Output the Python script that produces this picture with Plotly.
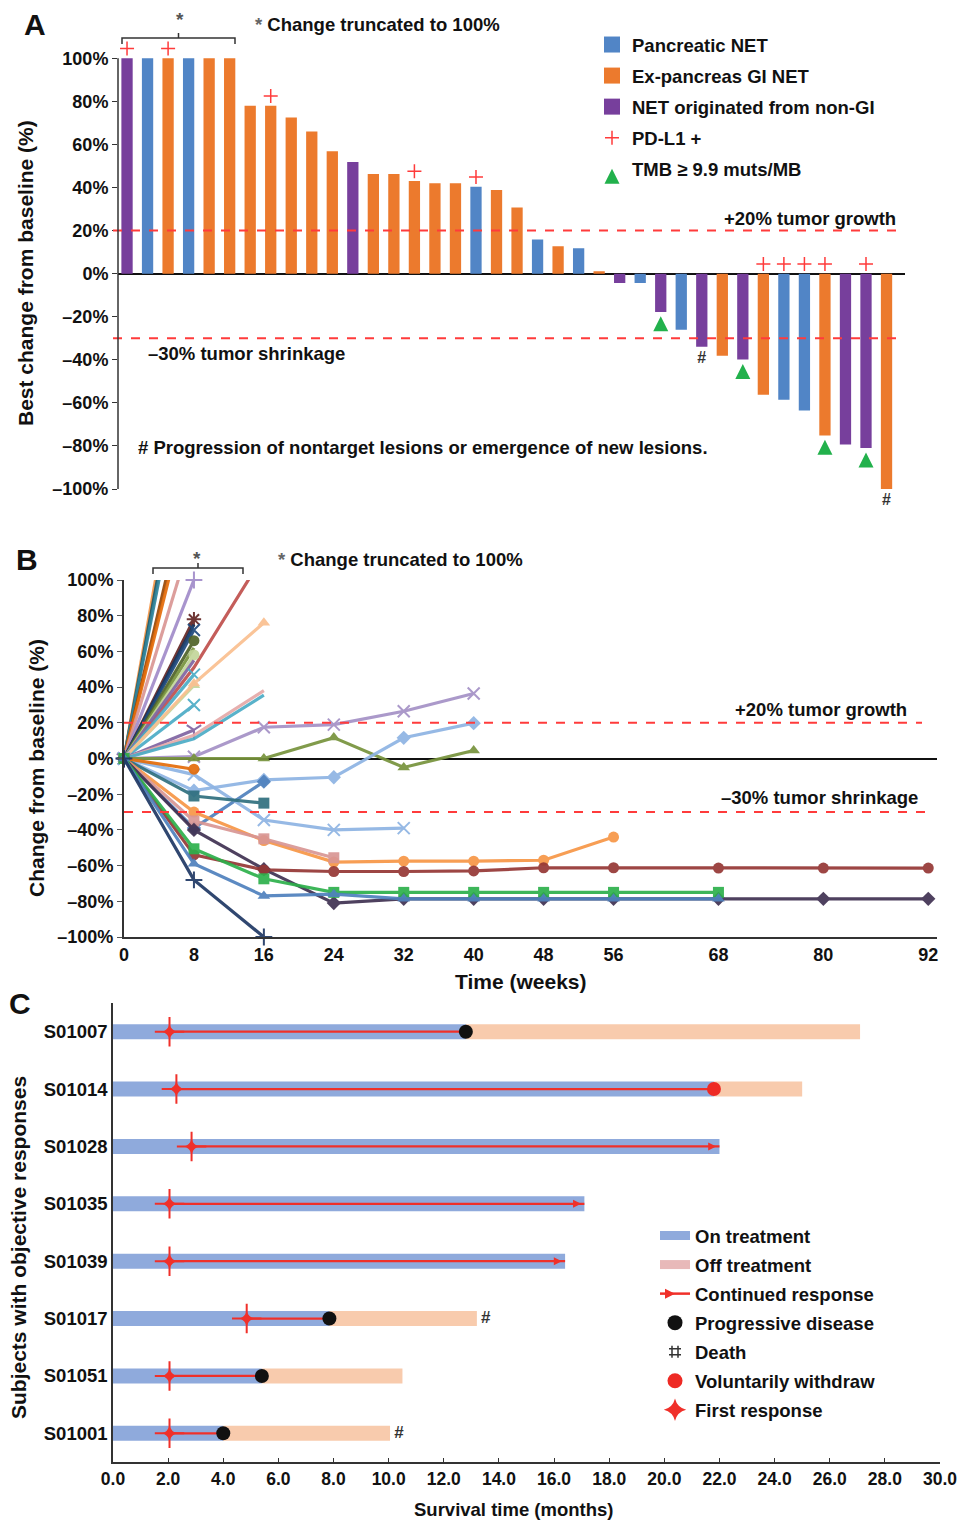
import plotly.graph_objects as go

W, H = 963, 1522
def px(x): return x / W
def py(y): return 1 - y / H

FONT = "Arial, Liberation Sans, Helvetica, sans-serif"
RED = "#FF3B3B"

# ---------------- Panel A data ----------------
a_values = [100, 100, 100, 100, 100, 100, 78, 78, 72.5, 66, 56.8, 51.8, 46.3, 46.3, 43, 42, 42,
            40.4, 38.9, 30.7, 15.8, 12.7, 11.8, 1.1, -4.3, -4.3, -17.8, -26, -34, -38.1, -39.9,
            -56.2, -58.5, -63.6, -75.1, -79.3, -81, -100]
a_types = ["N", "P", "G", "P", "G", "G", "G", "G", "G", "G", "G", "N", "G", "G", "G", "G", "G",
           "P", "G", "G", "P", "G", "P", "G", "N", "P", "N", "P", "N", "G", "N",
           "G", "P", "P", "G", "N", "N", "G"]
a_type_names = {"P": "Pancreatic NET", "G": "Ex-pancreas GI NET", "N": "NET originated from non-GI"}
a_pdl1 = [1, 3, 8, 15, 18, 32, 33, 34, 35, 37]
a_tmb = [27, 31, 35, 37]
a_progress = [29, 38]
a_ticks = list(range(-100, 101, 20))
a_ticktext = [("–%d%%" % -v) if v < 0 else ("%d%%" % v) for v in a_ticks]

# ---------------- Panel B data ----------------
b_weeks = [0, 8, 16, 24, 32, 40, 48, 56, 68, 80, 92]
b_values = [
    [0, 222], [0, 210], [0, 200], [0, 167], [0, 157], [0, 129], [0, 100],
    [0, 51, 114],
    [0, 78], [0, 75], [0, 72], [0, 66], [0, 62], [0, 58], [0, 55], [0, 47], [0, 41], [0, 30], [0, 16],
    [0, 42, 76], [0, 13, 38], [0, 11, 35.5],
    [0, 1, 17.5, 19, 26.5, 36.4],
    [0, 0, 0, 11.7, -5, 4.5],
    [0, -18, -12, -10.5, 11.6, 19.8],
    [0, -39, -13],
    [0, -9, -34.5, -40, -39],
    [0, -21, -25],
    [0, -6],
    [0, -30, -46, -58, -57.5, -57.5, -57, -44],
    [0, -35, -45, -55.6],
    [0, -40, -62, -81, -78.6, -78.6, -78.6, -78.6, -78.6, -78.6, -78.6],
    [0, -54, -62.4, -63.3, -63.3, -63, -61.2, -61.2, -61.4, -61.4, -61.4],
    [0, -50.6, -67.4, -75, -75, -75, -75, -75, -75],
    [0, -59, -77, -76, -78.6, -78.6, -78.6, -78.6, -78.6],
    [0, -68, -100],
]
b_colors = ["#F79646", "#215968", "#31859C", "#984807", "#E46C0A", "#DA9694", "#A18BC9",
            "#C0504D",
            "#632523", "#17375E", "#1F497D", "#4F6228", "#77933C", "#C3D69B", "#8064A2", "#4BACC6",
            "#C3D69B", "#4BACC6", "#8064A2",
            "#FAC090", "#E6A9A8", "#4BACC6",
            "#A491C6", "#77933C", "#8EB4E3", "#4F81BD", "#8EB4E3", "#2F6F7E", "#E46C0A",
            "#F79646", "#D99694", "#403152", "#953735", "#2DB04B", "#4F81BD", "#1F3864"]
b_symbols = ["none", "none", "none", "none", "none", "none", "cross-thin-open",
             "none",
             "asterisk-open", "none", "x-thin-open", "circle", "none", "circle", "none", "x-thin-open",
             "triangle-up", "x-thin-open", "y-down-open",
             "triangle-up", "none", "none",
             "x-thin-open", "triangle-up", "diamond", "diamond", "x-thin-open", "square", "circle",
             "circle", "square", "diamond", "circle", "square", "triangle-up", "cross-thin-open"]
b_xticks = [0, 8, 16, 24, 32, 40, 48, 56, 68, 80, 92]

# ---------------- Panel C data ----------------
c_subjects = ["S01007", "S01014", "S01028", "S01035", "S01039", "S01017", "S01051", "S01001"]
c_on_end = [12.8, 21.8, 22.0, 17.1, 16.4, 7.85, 5.4, 4.0]
c_off_end = [27.1, 25.0, 22.0, 17.1, 16.4, 13.2, 10.5, 10.05]
c_first_resp = [2.05, 2.3, 2.85, 2.05, 2.05, 4.85, 2.05, 2.05]
c_outcome = ["PD", "WD", "CR", "CR", "CR", "PD", "PD", "PD"]
c_death = [False, False, False, False, False, True, False, True]
c_xticks = [i * 2 for i in range(16)]

fig = go.Figure()

# ======== Panel A ========
a_colors = {"P": "#5185C6", "G": "#EC7A2D", "N": "#773F9C"}
for t in ["P", "G", "N"]:
    xs = [i + 1 for i, tt in enumerate(a_types) if tt == t]
    ys = [a_values[i] for i, tt in enumerate(a_types) if tt == t]
    fig.add_trace(go.Bar(x=xs, y=ys, name=a_type_names[t], marker=dict(color=a_colors[t], line=dict(width=0)),
                         width=0.55, xaxis="x", yaxis="y", showlegend=False))
    fig.add_trace(go.Scatter(x=[None], y=[None], mode="markers", name=a_type_names[t],
                             marker=dict(symbol="square", size=16, color=a_colors[t]),
                             xaxis="x", yaxis="y", legend="legend", legendgroup=t))
fig.add_trace(go.Scatter(x=a_pdl1, y=[max(a_values[i - 1], 0) + 4.5 for i in a_pdl1], mode="markers",
                         name="PD-L1 +", marker=dict(symbol="cross-thin-open", size=10, color=RED,
                                                      line=dict(width=1.5, color=RED)),
                         cliponaxis=False, xaxis="x", yaxis="y", legend="legend", legendgroup="pd"))
fig.add_trace(go.Scatter(x=a_tmb, y=[a_values[i - 1] - 2 for i in a_tmb], mode="markers",
                         name="TMB ≥ 9.9 muts/MB", marker=dict(symbol="arrow-up", size=15, color="#22B14C"),
                         cliponaxis=False, xaxis="x", yaxis="y", legend="legend", legendgroup="tmb"))
fig.add_trace(go.Scatter(x=a_progress, y=[a_values[i - 1] - 2 for i in a_progress], mode="text",
                         text=["#"] * len(a_progress), textposition="bottom center",
                         textfont=dict(size=16, color="#333"), showlegend=False,
                         cliponaxis=False, xaxis="x", yaxis="y"))

# ======== Panel B ========
for vals, col, sym in zip(b_values, b_colors, b_symbols):
    truncated = max(vals) > 100
    mode = "lines" if sym == "none" else "lines+markers"
    open_sym = sym.endswith("open")
    fig.add_trace(go.Scatter(
        x=b_weeks[:len(vals)], y=vals, mode=mode, showlegend=False,
        line=dict(color=col, width=3.2),
        marker=dict(symbol=sym if sym != "none" else "circle", size=11 if not open_sym else 12,
                    color=col, line=dict(width=2 if open_sym else 0, color=col)),
        cliponaxis=truncated, xaxis="x2", yaxis="y2", opacity=0.92))

# ======== Panel C ========
fig.add_trace(go.Bar(y=c_subjects, x=c_on_end, base=0, orientation="h", width=0.26,
                     marker=dict(color="#8FAADC", line=dict(width=0)), showlegend=False,
                     xaxis="x3", yaxis="y3"))
fig.add_trace(go.Bar(y=c_subjects, x=[b - a for a, b in zip(c_on_end, c_off_end)], base=c_on_end,
                     orientation="h", width=0.26, marker=dict(color="#F8CBAD", line=dict(width=0)),
                     showlegend=False, xaxis="x3", yaxis="y3"))
resp_x, resp_y = [], []
for s, fr, end in zip(c_subjects, c_first_resp, c_on_end):
    resp_x += [fr, end, None]
    resp_y += [s, s, None]
fig.add_trace(go.Scatter(x=resp_x, y=resp_y, mode="lines", line=dict(color="#F0302A", width=2.2),
                         showlegend=False, xaxis="x3", yaxis="y3"))
cr_idx = [i for i, o in enumerate(c_outcome) if o == "CR"]
fig.add_trace(go.Scatter(x=[c_on_end[i] - 0.12 for i in cr_idx], y=[c_subjects[i] for i in cr_idx],
                         mode="markers", marker=dict(symbol="arrow-right", size=8, color="#F0302A"),
                         showlegend=False, xaxis="x3", yaxis="y3"))
pd_idx = [i for i, o in enumerate(c_outcome) if o == "PD"]
fig.add_trace(go.Scatter(x=[c_on_end[i] for i in pd_idx], y=[c_subjects[i] for i in pd_idx],
                         mode="markers", marker=dict(symbol="circle", size=14, color="#111"),
                         showlegend=False, xaxis="x3", yaxis="y3", cliponaxis=False))
wd_idx = [i for i, o in enumerate(c_outcome) if o == "WD"]
fig.add_trace(go.Scatter(x=[c_on_end[i] for i in wd_idx], y=[c_subjects[i] for i in wd_idx],
                         mode="markers", marker=dict(symbol="circle", size=14, color="#EE2A24"),
                         showlegend=False, xaxis="x3", yaxis="y3"))
fig.add_trace(go.Scatter(x=c_first_resp, y=c_subjects, mode="markers",
                         marker=dict(symbol="cross-thin-open", size=21, color="#F0302A",
                                     line=dict(width=2, color="#F0302A")),
                         showlegend=False, xaxis="x3", yaxis="y3", cliponaxis=False))
fig.add_trace(go.Scatter(x=c_first_resp, y=c_subjects, mode="markers",
                         marker=dict(symbol="star-diamond", size=11, color="#F0302A"),
                         showlegend=False, xaxis="x3", yaxis="y3", cliponaxis=False))
d_idx = [i for i, d in enumerate(c_death) if d]
fig.add_trace(go.Scatter(x=[c_off_end[i] + 0.15 for i in d_idx], y=[c_subjects[i] for i in d_idx],
                         mode="text", text=["#"] * len(d_idx), textposition="middle right",
                         textfont=dict(size=17, color="#333"), showlegend=False,
                         xaxis="x3", yaxis="y3", cliponaxis=False))

# Panel C legend entries
leg_c = [
    dict(name="On treatment", mode="lines", line=dict(color="#8FAADC", width=9)),
    dict(name="Off treatment", mode="lines", line=dict(color="#E8B9B9", width=9)),
    dict(name="Continued response", mode="lines+markers", line=dict(color="#F0302A", width=2.5),
         marker=dict(symbol="arrow-right", size=10, color="#F0302A")),
    dict(name="Progressive disease", mode="markers", marker=dict(symbol="circle", size=15, color="#111")),
    dict(name="Death", mode="markers", marker=dict(symbol="hash-open", size=12, color="#333",
                                                   line=dict(width=1.5, color="#333"))),
    dict(name="Voluntarily withdraw", mode="markers", marker=dict(symbol="circle", size=15, color="#EE2A24")),
    dict(name="First response", mode="markers", marker=dict(symbol="star-diamond", size=16, color="#F0302A")),
]
for k, e in enumerate(leg_c):
    fig.add_trace(go.Scatter(x=[None], y=[None], xaxis="x3", yaxis="y3", legend="legend2",
                             legendgroup="c%d" % k, **e))

# ---------------- shapes ----------------
shapes = []
dash = dict(color=RED, width=2, dash="dash")
shapes.append(dict(type="line", xref="paper", yref="y", x0=px(113), x1=px(897), y0=20, y1=20, line=dash))
shapes.append(dict(type="line", xref="paper", yref="y", x0=px(113), x1=px(905), y0=-30, y1=-30, line=dash))
shapes.append(dict(type="line", xref="paper", yref="y2", x0=px(124), x1=px(922), y0=20, y1=20, line=dash))
shapes.append(dict(type="line", xref="paper", yref="y2", x0=px(124), x1=px(925), y0=-30, y1=-30, line=dash))
# panel A y-axis line (axis range is padded so the markers beyond +/-100% stay visible)
shapes.append(dict(type="line", xref="paper", yref="y", x0=px(118), x1=px(118), y0=-100, y1=100,
                   line=dict(color="#333", width=1.5)))

def bracket(x0, x1, ytop, depth, tick):
    xm = (x0 + x1) / 2
    return dict(type="path", xref="paper", yref="paper",
                path="M %f %f L %f %f L %f %f L %f %f M %f %f L %f %f" % (
                    px(x0), py(ytop + depth), px(x0), py(ytop), px(x1), py(ytop), px(x1), py(ytop + depth),
                    px(xm), py(ytop), px(xm), py(ytop - tick)),
                line=dict(color="#333", width=1.5))
shapes.append(bracket(122, 235, 38, 6, 5))
shapes.append(bracket(153, 243, 568, 6, 5))

# ---------------- annotations ----------------
def ann(text, x, y, size=18.5, xanchor="center", angle=0, color="#111"):
    return dict(text=text, x=px(x), y=py(y), xref="paper", yref="paper", showarrow=False,
                xanchor=xanchor, yanchor="middle", textangle=angle,
                font=dict(size=size, color=color, family=FONT, weight="bold"))

anns = [
    ann("A", 35, 25, 30),
    ann("*", 180, 20, 19, color="#555"),
    ann("<span style='color:#666'>*</span> Change truncated to 100%", 253, 24, 18.5, "left"),
    ann("+20% tumor growth", 898, 218, 18.5, "right"),
    ann("–30% tumor shrinkage", 146, 353, 18.5, "left"),
    ann("# Progression of nontarget lesions or emergence of new lesions.", 136, 447, 18.5, "left"),
    ann("Best change from baseline (%)", 25, 273, 21, angle=-90),
    ann("B", 27, 560, 30),
    ann("*", 197, 558, 19, color="#555"),
    ann("<span style='color:#666'>*</span> Change truncated to 100%", 276, 559, 18.5, "left"),
    ann("+20% tumor growth", 909, 710, 18.5, "right"),
    ann("–30% tumor shrinkage", 920, 797, 18.5, "right"),
    ann("Change from baseline (%)", 37, 768, 21, angle=-90),
    ann("Time (weeks)", 521, 982, 21),
    ann("C", 20, 1003, 30),
    ann("Subjects with objective responses", 18, 1248, 21, angle=-90),
    ann("Survival time (months)", 513, 1509, 18.5),
]

def axis_common(size):
    return dict(showgrid=False, linecolor="#333", automargin=False,
                tickfont=dict(size=size, family=FONT, weight="bold", color="#111"))

A0, AS = 273.65, 2.1535   # panel A: pixel row of 0% and pixels per percent
fig.update_layout(
    width=W, height=H, margin=dict(l=0, r=0, t=0, b=0, pad=0, autoexpand=False),
    paper_bgcolor="white", plot_bgcolor="white",
    font=dict(family=FONT, weight="bold", color="#111"),
    barmode="overlay", hovermode=False,
    xaxis=dict(domain=[px(118), px(905)], range=[0.56, 38.9], visible=False, anchor="y"),
    yaxis=dict(domain=[py(A0 + 108 * AS), py(A0 - 108 * AS)], range=[-108, 108], tickmode="array",
               tickvals=a_ticks, ticktext=a_ticktext, showline=False, ticks="outside", ticklen=5,
               tickcolor="#333", zeroline=True, zerolinecolor="#111", zerolinewidth=2, anchor="x",
               **axis_common(18)),
    xaxis2=dict(domain=[px(124), px(937)], range=[0, 93], tickmode="array", tickvals=b_xticks,
                showline=True, linewidth=2, ticks="", zeroline=False, anchor="y2", **axis_common(18)),
    yaxis2=dict(domain=[py(937), py(580)], range=[-100, 100], tickmode="array", tickvals=a_ticks,
                ticktext=a_ticktext, showline=True, linewidth=2, ticks="outside", ticklen=5,
                tickcolor="#555", zeroline=True, zerolinecolor="#111", zerolinewidth=2, anchor="x2",
                **axis_common(18)),
    xaxis3=dict(domain=[px(113), px(940)], range=[0, 30], tickmode="array", tickvals=c_xticks,
                ticktext=["%.1f" % v for v in c_xticks],
                showline=True, linewidth=1.5, ticks="inside", ticklen=4, tickcolor="#333",
                zeroline=False, anchor="y3", **axis_common(17.5)),
    yaxis3=dict(domain=[py(1462), py(1003)], type="category", categoryorder="array",
                categoryarray=c_subjects[::-1], range=[-0.5, 7.5], showline=True, linewidth=1.5,
                ticks="", anchor="x3", **axis_common(18.5)),
    legend=dict(x=px(592), y=py(26), xanchor="left", yanchor="top", bgcolor="rgba(0,0,0,0)",
                font=dict(size=18.5, family=FONT, weight="bold", color="#111"), tracegroupgap=4,
                itemclick=False),
    legend2=dict(x=px(655), y=py(1217), xanchor="left", yanchor="top", bgcolor="rgba(0,0,0,0)",
                 font=dict(size=18.5, family=FONT, weight="bold", color="#111"), tracegroupgap=2,
                 itemclick=False),
    shapes=shapes, annotations=anns,
)

fig.write_html("out.html", config={"displayModeBar": False},
               post_script="document.body.style.margin='0px';")
